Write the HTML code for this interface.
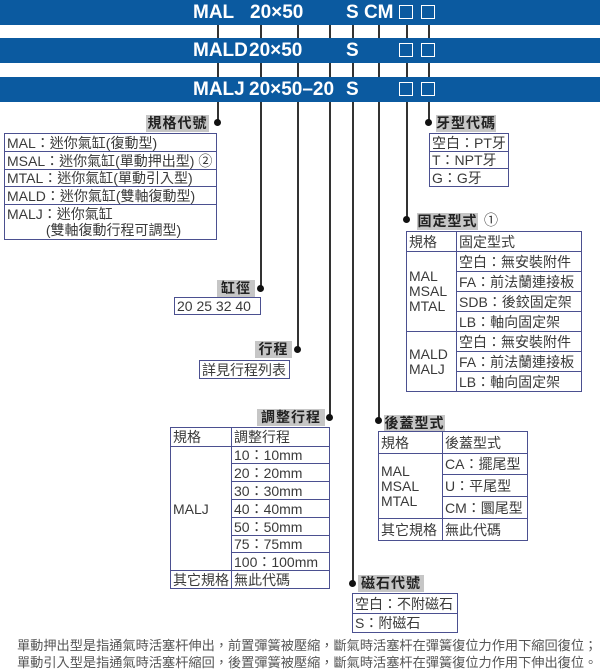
<!DOCTYPE html>
<html><head><meta charset="utf-8">
<style>
body{margin:0;width:600px;height:669px;background:#fff;position:relative;overflow:hidden;font-family:"Liberation Sans","Noto Sans CJK TC",sans-serif;color:#333}
.a{position:absolute}
.bar{position:absolute;left:0;width:600px;height:25px;background:#0b5aa0}
.bt{position:absolute;color:#fff;font-weight:bold;font-size:19px;line-height:25px;top:0;white-space:pre}
.sq{position:absolute;width:12px;height:12px;border:1.5px solid #fff;top:5px}
.v{position:absolute;width:1.5px;background:#333}
.d{position:absolute;width:7px;height:7px;border-radius:50%;background:#111}
.lb{position:absolute;background:#c6c6c6;color:#222;font-weight:bold;font-size:14px;line-height:17px;text-align:center;letter-spacing:1px}
.c{position:absolute;border:1px solid #4b5090;box-sizing:border-box;font-size:14px;line-height:16px;padding-left:2px;white-space:nowrap;overflow:hidden;display:flex;align-items:center;color:#3a3a3a}
.ft{position:absolute;left:17px;font-size:13.2px;color:#555;white-space:nowrap}
</style></head><body>

<div class="v" style="left:217px;top:10px;height:113px"></div>
<div class="v" style="left:260px;top:10px;height:279px"></div>
<div class="v" style="left:297px;top:10px;height:340px"></div>
<div class="v" style="left:329px;top:10px;height:407px"></div>
<div class="v" style="left:352px;top:10px;height:573px"></div>
<div class="v" style="left:378px;top:10px;height:410px"></div>
<div class="v" style="left:406px;top:10px;height:209px"></div>
<div class="v" style="left:428px;top:10px;height:113px"></div>

<div class="bar" style="top:0"><span class="bt" style="left:193px">MAL</span><span class="bt" style="left:250px">20×50</span><span class="bt" style="left:346px">S CM</span><div class="sq" style="left:399px"></div><div class="sq" style="left:421px"></div></div>
<div class="bar" style="top:38px"><span class="bt" style="left:193px">MALD</span><span class="bt" style="left:249px">20×50</span><span class="bt" style="left:346px">S</span><div class="sq" style="left:399px"></div><div class="sq" style="left:421px"></div></div>
<div class="bar" style="top:77px"><span class="bt" style="left:193px">MALJ</span><span class="bt" style="left:249px">20×50–20</span><span class="bt" style="left:346px">S</span><div class="sq" style="left:399px"></div><div class="sq" style="left:421px"></div></div>

<div class="d" style="left:214px;top:119px"></div>
<div class="d" style="left:425px;top:119px"></div>
<div class="d" style="left:403px;top:216px"></div>
<div class="d" style="left:257px;top:285px"></div>
<div class="d" style="left:294px;top:346px"></div>
<div class="d" style="left:326px;top:414px"></div>
<div class="d" style="left:375px;top:417px"></div>
<div class="d" style="left:349px;top:580px"></div>

<div class="lb" style="left:146px;top:115px;width:63px">規格代號</div>
<div class="c" style="left:4px;top:133px;width:213px;height:19px">MAL：迷你氣缸(復動型)</div>
<div class="c" style="left:4px;top:151px;width:213px;height:19px">MSAL：迷你氣缸(單動押出型) ②</div>
<div class="c" style="left:4px;top:169px;width:213px;height:18px">MTAL：迷你氣缸(單動引入型)</div>
<div class="c" style="left:4px;top:186px;width:213px;height:19px">MALD：迷你氣缸(雙軸復動型)</div>
<div class="c" style="left:4px;top:204px;width:213px;height:36px;align-items:flex-start;padding-top:1px">MALJ：迷你氣缸<br>&nbsp;&nbsp;&nbsp;&nbsp;&nbsp;&nbsp;&nbsp;&nbsp;&nbsp;&nbsp;(雙軸復動行程可調型)</div>

<div class="lb" style="left:436px;top:115px;width:60px">牙型代碼</div>
<div class="c" style="left:429px;top:133px;width:80px;height:19px">空白：PT牙</div>
<div class="c" style="left:429px;top:151px;width:80px;height:18px">T：NPT牙</div>
<div class="c" style="left:429px;top:168px;width:80px;height:19px">G：G牙</div>

<div class="lb" style="left:417px;top:213px;width:61px">固定型式</div>
<div class="a" style="left:484px;top:210px;font-size:14px">①</div>
<div class="c" style="left:406px;top:231px;width:51px;height:21px">規格</div>
<div class="c" style="left:456px;top:231px;width:126px;height:21px">固定型式</div>
<div class="c" style="left:406px;top:251px;width:51px;height:81px;line-height:15px">MAL<br>MSAL<br>MTAL</div>
<div class="c" style="left:456px;top:251px;width:126px;height:21px">空白：無安裝附件</div>
<div class="c" style="left:456px;top:271px;width:126px;height:21px">FA：前法蘭連接板</div>
<div class="c" style="left:456px;top:291px;width:126px;height:21px">SDB：後鉸固定架</div>
<div class="c" style="left:456px;top:311px;width:126px;height:21px">LB：軸向固定架</div>
<div class="c" style="left:406px;top:331px;width:51px;height:61px;line-height:15px">MALD<br>MALJ</div>
<div class="c" style="left:456px;top:331px;width:126px;height:21px">空白：無安裝附件</div>
<div class="c" style="left:456px;top:351px;width:126px;height:21px">FA：前法蘭連接板</div>
<div class="c" style="left:456px;top:371px;width:126px;height:21px">LB：軸向固定架</div>

<div class="lb" style="left:217px;top:280px;width:38px">缸徑</div>
<div class="c" style="left:174px;top:297px;width:87px;height:18px">20 25 32 40</div>

<div class="lb" style="left:255px;top:341px;width:37px">行程</div>
<div class="c" style="left:199px;top:360px;width:91px;height:19px">詳見行程列表</div>

<div class="lb" style="left:257px;top:409px;width:68px">調整行程</div>
<div class="c" style="left:170px;top:427px;width:62px;height:20px">規格</div>
<div class="c" style="left:231px;top:427px;width:99px;height:20px">調整行程</div>
<div class="c" style="left:170px;top:446px;width:62px;height:125px">MALJ</div>
<div class="c" style="left:231px;top:446px;width:99px;height:18px">10：10mm</div>
<div class="c" style="left:231px;top:463px;width:99px;height:19px">20：20mm</div>
<div class="c" style="left:231px;top:481px;width:99px;height:19px">30：30mm</div>
<div class="c" style="left:231px;top:499px;width:99px;height:19px">40：40mm</div>
<div class="c" style="left:231px;top:517px;width:99px;height:19px">50：50mm</div>
<div class="c" style="left:231px;top:535px;width:99px;height:18px">75：75mm</div>
<div class="c" style="left:231px;top:552px;width:99px;height:19px">100：100mm</div>
<div class="c" style="left:170px;top:570px;width:62px;height:19px">其它規格</div>
<div class="c" style="left:231px;top:570px;width:99px;height:19px">無此代碼</div>

<div class="lb" style="left:384px;top:415px;width:61px">後蓋型式</div>
<div class="c" style="left:378px;top:431px;width:65px;height:23px">規格</div>
<div class="c" style="left:442px;top:431px;width:86px;height:23px">後蓋型式</div>
<div class="c" style="left:378px;top:453px;width:65px;height:66px;line-height:15px">MAL<br>MSAL<br>MTAL</div>
<div class="c" style="left:442px;top:453px;width:86px;height:22px">CA：擺尾型</div>
<div class="c" style="left:442px;top:474px;width:86px;height:23px">U：平尾型</div>
<div class="c" style="left:442px;top:496px;width:86px;height:23px">CM：圜尾型</div>
<div class="c" style="left:378px;top:518px;width:65px;height:23px">其它規格</div>
<div class="c" style="left:442px;top:518px;width:86px;height:23px">無此代碼</div>

<div class="lb" style="left:358px;top:575px;width:66px">磁石代號</div>
<div class="c" style="left:352px;top:593px;width:106px;height:21px">空白：不附磁石</div>
<div class="c" style="left:352px;top:613px;width:106px;height:20px">S：附磁石</div>

<div class="ft" style="top:635px">單動押出型是指通氣時活塞杆伸出，前置彈簧被壓縮，斷氣時活塞杆在彈簧復位力作用下縮回復位；</div>
<div class="ft" style="top:652px">單動引入型是指通氣時活塞杆縮回，後置彈簧被壓縮，斷氣時活塞杆在彈簧復位力作用下伸出復位。</div>
</body></html>
